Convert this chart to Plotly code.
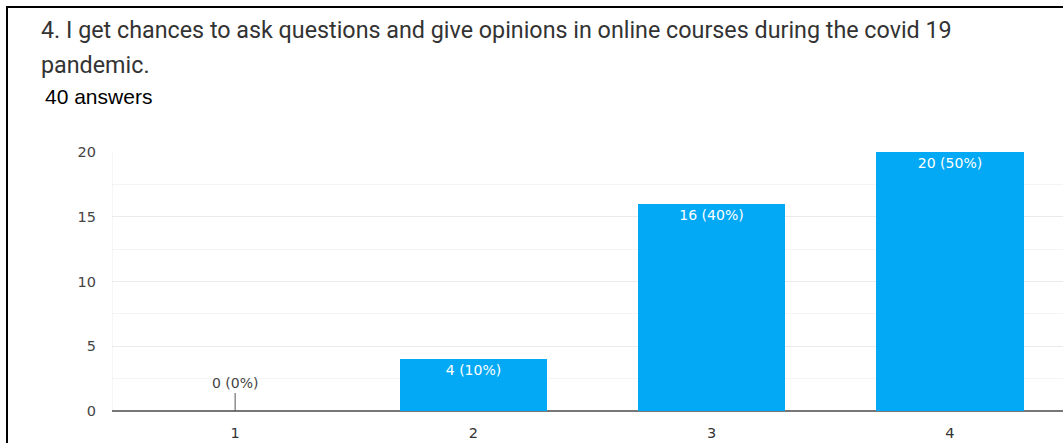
import plotly.graph_objects as go

categories = [1, 2, 3, 4]
counts = [0, 4, 16, 20]
total = 40
labels = [f"{c} ({round(c / total * 100)}%)" for c in counts]
y_ticks = [0, 5, 10, 15, 20]

W, H = 1063, 443
L, R, T, B = 112, 0, 152, 32
pw = W - L - R
ph = H - T - B

def px(x):
    return (x - L) / pw

def py(y):
    return (H - B - y) / ph

fig = go.Figure()
fig.add_trace(go.Bar(
    x=categories, y=counts, width=0.618,
    marker=dict(color="#03a9f4", line=dict(width=0)),
    text=[t if c > 0 else "" for t, c in zip(labels, counts)],
    textposition="inside", insidetextanchor="end",
    textfont=dict(color="white", size=14, family="DejaVu Sans"),
    cliponaxis=False,
))

# zero-value label with leader line
for cat, c, t in zip(categories, counts, labels):
    if c == 0:
        fig.add_annotation(x=cat, y=c, text=t, showarrow=True, arrowhead=0,
                           arrowwidth=1, arrowcolor="#555", ax=0, ay=-18,
                           yanchor="bottom",
                           font=dict(size=14, color="#444", family="DejaVu Sans"))

fig.add_annotation(xref="paper", yref="paper", x=px(39), y=py(30), xanchor="left",
                   yanchor="middle", showarrow=False,
                   text="4. I get chances to ask questions and give opinions in online courses during the covid 19",
                   font=dict(size=23.3, color="#333", family="Roboto"))
fig.add_annotation(xref="paper", yref="paper", x=px(39), y=py(65), xanchor="left",
                   yanchor="middle", showarrow=False, text="pandemic.",
                   font=dict(size=23.3, color="#333", family="Roboto"))
fig.add_annotation(xref="paper", yref="paper", x=px(43), y=py(96), xanchor="left",
                   yanchor="middle", showarrow=False, text="40 answers",
                   font=dict(size=21, color="#000", family="Arial"))

# frame lines
fig.add_shape(type="line", xref="paper", yref="paper", x0=px(7), x1=px(7), y0=py(6), y1=py(460),
              line=dict(color="black", width=2))
fig.add_shape(type="line", xref="paper", yref="paper", x0=px(6), x1=px(1100), y0=py(7), y1=py(7),
              line=dict(color="black", width=2))

fig.update_layout(
    width=W, height=H, margin=dict(l=L, r=R, t=T, b=B),
    paper_bgcolor="white", plot_bgcolor="white", showlegend=False,
    font=dict(family="Arial", color="#444"),
    xaxis=dict(range=[0.4832, 4.4748], tickvals=categories, ticktext=[str(c) for c in categories],
               showgrid=False, zeroline=False, showline=False, ticks="",
               ticklabelstandoff=11,
               tickfont=dict(size=14.5, color="#333", family="DejaVu Sans"), fixedrange=True),
    yaxis=dict(range=[0, 20], tickvals=y_ticks, showgrid=True, gridcolor="#ebebeb", gridwidth=1,
               zeroline=True, zerolinecolor="#777", zerolinewidth=2,
               minor=dict(dtick=2.5, showgrid=True, gridcolor="#f4f4f4", gridwidth=1),
               ticks="", ticklabelstandoff=15,
               tickfont=dict(size=14.5, color="#444", family="DejaVu Sans"), fixedrange=True),
    bargap=0,
)
fig.add_shape(type="line", xref="x", yref="paper", x0=0.4832, x1=0.4832, y0=0, y1=1,
              line=dict(color="#ebebeb", width=1), layer="below")

fig.write_html("out.html", config={"displayModeBar": False},
               post_script="document.body.style.margin='0';")
